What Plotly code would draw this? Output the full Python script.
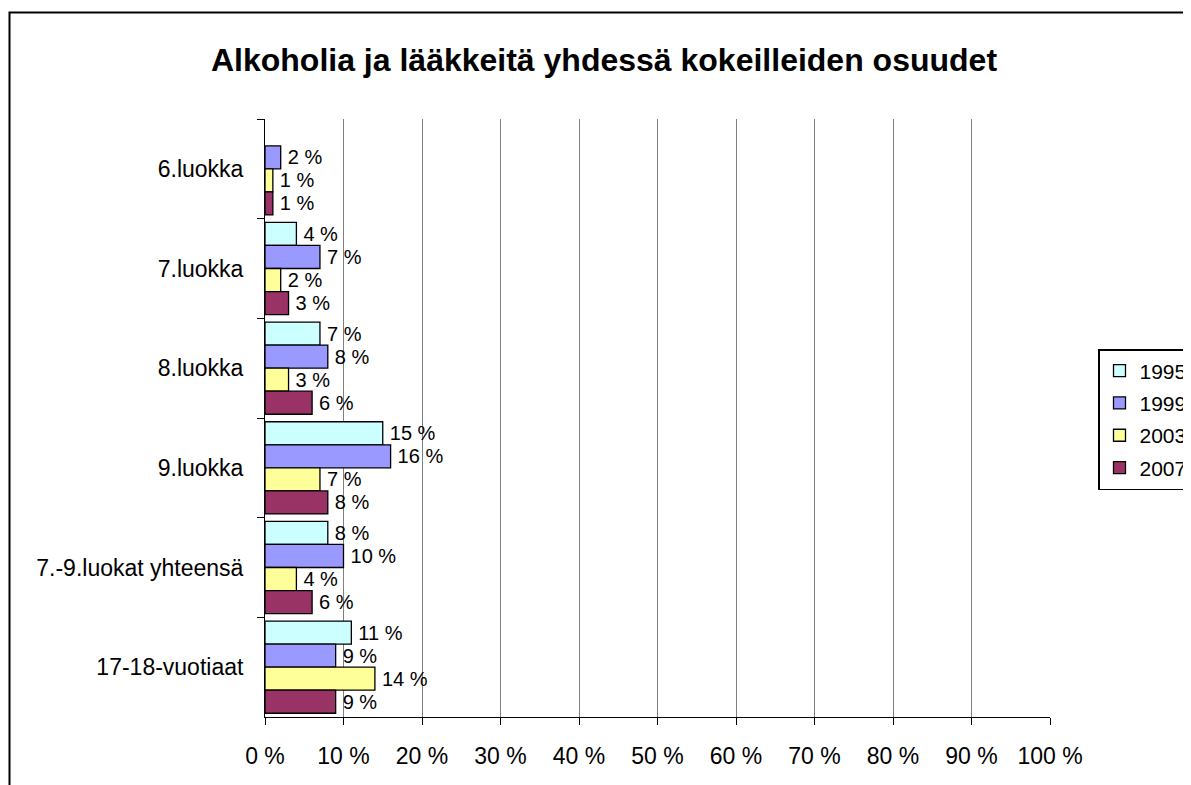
import plotly.graph_objects as go

categories = ["6.luokka", "7.luokka", "8.luokka", "9.luokka", "7.-9.luokat yhteensä", "17-18-vuotiaat"]
years = ["1995", "1999", "2003", "2007"]
v1995 = [None, 4, 7, 15, 8, 11]
v1999 = [2, 7, 8, 16, 10, 9]
v2003 = [1, 2, 3, 7, 4, 14]
v2007 = [1, 3, 6, 8, 6, 9]
series = [v1995, v1999, v2003, v2007]
colors = ["#CCFFFF", "#9999FF", "#FFFF99", "#993366"]
x_ticks = list(range(0, 101, 10))

FONT = "Liberation Sans, Arial, sans-serif"

fig = go.Figure()
for yr, vals, col in zip(years, series, colors):
    fig.add_trace(go.Bar(
        y=categories, x=vals, orientation="h", name=yr,
        legendgroup=yr,
        marker=dict(color=col, line=dict(color="black", width=1.3)),
        text=[("" if v is None else f"\u2009{v} %") for v in vals],
        textposition="outside", cliponaxis=False,
        textfont=dict(family=FONT, size=20, color="black"),
    ))

# page offset (body margin) compensation
OFF = 8
SW, SH = 1191, 785
W, H = SW - OFF, SH - OFF
PL, PR, PT, PB = 265, 1050, 119, 717  # plot area in screen pixels
L, R, T, B = PL - OFF, W - (PR - OFF), PT - OFF, H - (PB - OFF)
pw = W - L - R
ph = H - T - B

def px_x(x):
    return (x - OFF - L) / pw

def px_y(y):
    return (H - B - (y - OFF)) / ph

fig.update_layout(
    width=W, height=H,
    margin=dict(l=L, r=R, t=T, b=B, autoexpand=False),
    paper_bgcolor="white", plot_bgcolor="white",
    barmode="group", bargap=0.075, bargroupgap=0,
    font=dict(family=FONT, size=23, color="black"),
    title=dict(text="<b>Alkoholia ja lääkkeitä yhdessä kokeilleiden osuudet</b>",
               x=px_x(604), xref="paper", xanchor="center",
               y=1 - (60 - OFF) / H, yref="container", yanchor="middle",
               font=dict(family=FONT, size=32, color="black")),
    xaxis=dict(range=[0, 100], tickvals=x_ticks, ticktext=[f"{t} %" for t in x_ticks],
               showgrid=True, gridcolor="#808080", gridwidth=1,
               showline=True, linecolor="black", linewidth=1,
               ticks="outside", ticklen=7, tickcolor="black",
               ticklabelstandoff=11, zeroline=False,
               tickfont=dict(family=FONT, size=23)),
    yaxis=dict(autorange="reversed", type="category",
               showline=True, linecolor="black", linewidth=1,
               ticks="outside", ticklen=7, tickcolor="black", tickson="boundaries",
               ticklabelstandoff=16, showgrid=False,
               tickfont=dict(family=FONT, size=23)),
    legend=dict(x=px_x(1098), y=px_y(349), xanchor="left", yanchor="top",
                bordercolor="black", borderwidth=1.5, bgcolor="white",
                traceorder="grouped", tracegroupgap=2,
                font=dict(family=FONT, size=21)),
    shapes=[dict(type="rect", xref="paper", yref="paper",
                 x0=px_x(9.5), y0=px_y(900), x1=px_x(1300), y1=px_y(12.5),
                 line=dict(color="black", width=2), fillcolor="rgba(0,0,0,0)",
                 layer="below")],
)

fig.write_html("out.html")
